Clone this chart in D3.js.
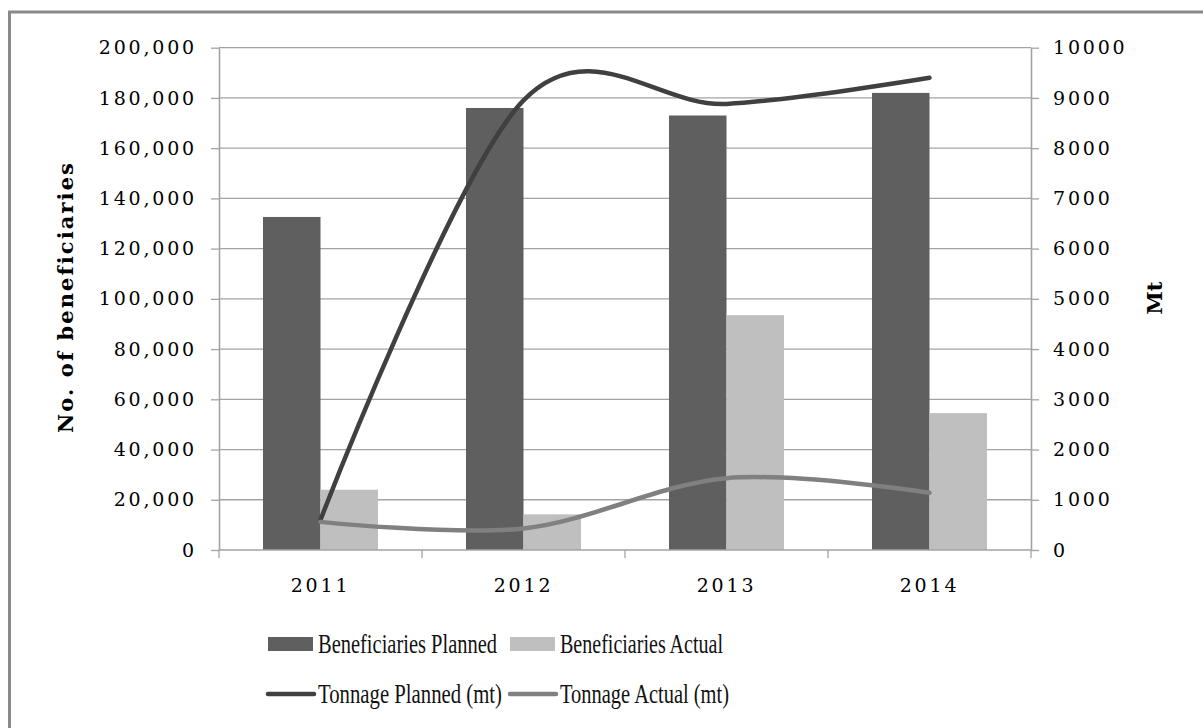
<!DOCTYPE html>
<html>
<head>
<meta charset="utf-8">
<script src="https://cdn.jsdelivr.net/npm/d3@7"></script>
<style>
  html, body { margin: 0; padding: 0; background: #fff; }
  svg { display: block; }
</style>
</head>
<body>
<svg id="chart" width="1203" height="728"></svg>
<script>
// Data
const years = ['2011', '2012', '2013', '2014'];
const beneficiariesPlanned = [132600, 176000, 173000, 182000];
const beneficiariesActual = [24000, 14200, 93500, 54500];
const tonnagePlanned = [600, 8950, 8880, 9400];
const tonnageActual = [560, 430, 1430, 1140];
const leftTicks = [0, 20000, 40000, 60000, 80000, 100000, 120000, 140000, 160000, 180000, 200000];
const rightTicks = [0, 1000, 2000, 3000, 4000, 5000, 6000, 7000, 8000, 9000, 10000];

const barSeries = [
  { name: 'Beneficiaries Planned', values: beneficiariesPlanned, color: '#5f5f5f' },
  { name: 'Beneficiaries Actual', values: beneficiariesActual, color: '#bfbfbf' }
];
const lineSeries = [
  { name: 'Tonnage Planned (mt)', values: tonnagePlanned, color: '#404040' },
  { name: 'Tonnage Actual (mt)', values: tonnageActual, color: '#808080' }
];

const svg = d3.select('#chart');
const plot = { left: 219, right: 1031, top: 47.7, bottom: 550 };
const gridColor = '#a3a3a3';
const tickFont = "'DejaVu Serif', serif";

// outer frame (cropped on right and bottom like the source image)
svg.append('rect')
  .attr('x', 9.5).attr('y', 12)
  .attr('width', 1220).attr('height', 740)
  .attr('fill', 'none')
  .attr('stroke', '#8a8a8a')
  .attr('stroke-width', 3);

const x0 = d3.scaleBand().domain(years).range([plot.left, plot.right]);
const groupW = 115;
const x1 = d3.scaleBand()
  .domain(barSeries.map(s => s.name))
  .range([(x0.bandwidth() - groupW) / 2, (x0.bandwidth() + groupW) / 2]);
const yL = d3.scaleLinear().domain([0, 200000]).range([plot.bottom, plot.top]);
const yR = d3.scaleLinear().domain([0, 10000]).range([plot.bottom, plot.top]);

// gridlines
svg.append('g')
  .selectAll('line')
  .data(leftTicks.filter(d => d > 0))
  .join('line')
  .attr('x1', plot.left).attr('x2', plot.right)
  .attr('y1', d => yL(d)).attr('y2', d => yL(d))
  .attr('stroke', gridColor)
  .attr('stroke-width', 1.3);

// bars
const groups = svg.append('g')
  .selectAll('g')
  .data(years)
  .join('g')
  .attr('transform', d => `translate(${x0(d)},0)`);

groups.selectAll('rect')
  .data((d, i) => barSeries.map(s => ({ name: s.name, value: s.values[i], color: s.color })))
  .join('rect')
  .attr('x', d => x1(d.name))
  .attr('y', d => yL(d.value))
  .attr('width', x1.bandwidth())
  .attr('height', d => yL(0) - yL(d.value))
  .attr('fill', d => d.color);

// axes
function styleText(sel) {
  sel.attr('fill', '#000')
    .style('font-family', tickFont)
    .style('font-size', '19px')
    .style('letter-spacing', '2.8px');
}
function styleAxis(g) {
  g.select('.domain').attr('stroke', gridColor).attr('stroke-width', 1.6);
  g.selectAll('.tick line').attr('stroke', gridColor).attr('stroke-width', 1.3);
  g.selectAll('.tick text').call(styleText);
}

svg.append('g')
  .attr('transform', `translate(${plot.left},0)`)
  .call(d3.axisLeft(yL).tickValues(leftTicks).tickFormat(d3.format(',')).tickSize(8).tickSizeOuter(0).tickPadding(14))
  .call(styleAxis);

svg.append('g')
  .attr('transform', `translate(${plot.right},0)`)
  .call(d3.axisRight(yR).tickValues(rightTicks).tickFormat(d3.format('d')).tickSize(8).tickSizeOuter(0).tickPadding(14))
  .call(styleAxis);

// x axis baseline + category ticks at band edges
const xAxis = svg.append('g');
xAxis.append('line')
  .attr('x1', plot.left).attr('x2', plot.right)
  .attr('y1', plot.bottom).attr('y2', plot.bottom)
  .attr('stroke', gridColor).attr('stroke-width', 1.6);
xAxis.selectAll('line.cat')
  .data(years.concat(['end']))
  .join('line')
  .attr('class', 'cat')
  .attr('x1', d => d === 'end' ? plot.right : x0(d))
  .attr('x2', d => d === 'end' ? plot.right : x0(d))
  .attr('y1', plot.bottom).attr('y2', plot.bottom + 8)
  .attr('stroke', gridColor).attr('stroke-width', 1.3);
xAxis.selectAll('text')
  .data(years)
  .join('text')
  .attr('x', d => x0(d) + x0.bandwidth() / 2)
  .attr('y', 592)
  .attr('text-anchor', 'middle')
  .call(styleText)
  .text(d => d);

// smoothed lines
const line = d3.line()
  .x((d, i) => x0(years[i]) + x0.bandwidth() / 2)
  .y(d => yR(d))
  .curve(d3.curveCardinal.tension(0));

svg.append('g')
  .selectAll('path')
  .data(lineSeries)
  .join('path')
  .attr('d', d => line(d.values))
  .attr('fill', 'none')
  .attr('stroke', d => d.color)
  .attr('stroke-width', 4.5)
  .attr('stroke-linecap', 'round');

// axis titles
svg.append('text')
  .attr('transform', 'translate(73,297) rotate(-90)')
  .attr('text-anchor', 'middle')
  .style('font-family', tickFont)
  .style('font-weight', 'bold')
  .style('font-size', '21px')
  .style('letter-spacing', '2.1px')
  .attr('fill', '#000')
  .text('No. of beneficiaries');

svg.append('text')
  .attr('transform', 'translate(1162,298) rotate(-90)')
  .attr('text-anchor', 'middle')
  .style('font-family', tickFont)
  .style('font-weight', 'bold')
  .style('font-size', '21px')
  .attr('fill', '#000')
  .text('Mt');

// legend
const legendFont = "'Liberation Serif', serif";
const legendItems = [
  { name: barSeries[0].name, color: barSeries[0].color, type: 'bar', x: 268, y: 644, w: 179 },
  { name: barSeries[1].name, color: barSeries[1].color, type: 'bar', x: 510, y: 644, w: 163 },
  { name: lineSeries[0].name, color: lineSeries[0].color, type: 'line', x: 268, y: 694, w: 184 },
  { name: lineSeries[1].name, color: lineSeries[1].color, type: 'line', x: 510, y: 694, w: 169 }
];

const leg = svg.append('g')
  .selectAll('g')
  .data(legendItems)
  .join('g')
  .attr('transform', d => `translate(${d.x},${d.y})`);

leg.filter(d => d.type === 'bar')
  .append('rect')
  .attr('x', 0).attr('y', -7)
  .attr('width', 45).attr('height', 14)
  .attr('fill', d => d.color);

leg.filter(d => d.type === 'line')
  .append('line')
  .attr('x1', 0).attr('x2', 46)
  .attr('y1', 0).attr('y2', 0)
  .attr('stroke', d => d.color)
  .attr('stroke-width', 4.5)
  .attr('stroke-linecap', 'round');

leg.append('text')
  .attr('x', 50)
  .attr('y', 9)
  .attr('textLength', d => d.w)
  .attr('lengthAdjust', 'spacingAndGlyphs')
  .style('font-family', legendFont)
  .style('font-size', '27px')
  .attr('fill', '#111')
  .text(d => d.name);
</script>
</body>
</html>
